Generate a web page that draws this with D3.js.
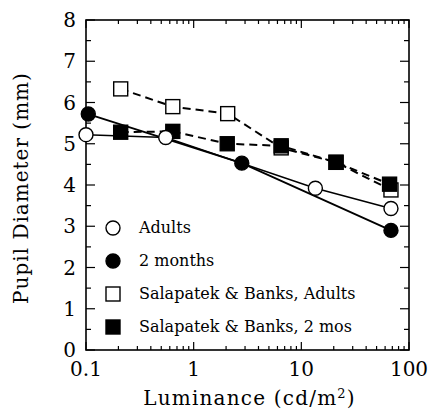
<!DOCTYPE html>
<html>
<head>
<meta charset="utf-8">
<script src="https://cdn.jsdelivr.net/npm/d3@7"></script>
<style>
body { margin: 0; background: #fff; }
svg { display: block; font-family: "DejaVu Serif", "Liberation Serif", serif; }
</style>
</head>
<body>
<svg id="chart" width="431" height="413"></svg>
<script>
// data
const adultsX = [0.1, 0.55, 13.5, 68];
const adultsY = [5.22, 5.15, 3.92, 3.43];
const twoMonthsX = [0.105, 2.8, 68];
const twoMonthsY = [5.72, 4.53, 2.9];
const sbAdultsX = [0.21, 0.64, 2.07, 6.5, 21, 68];
const sbAdultsY = [6.33, 5.9, 5.73, 4.9, 4.55, 3.88];
const sbInfantsX = [0.21, 0.64, 2.05, 6.5, 21, 66];
const sbInfantsY = [5.28, 5.3, 5.0, 4.95, 4.55, 4.02];
const yTicks = [0, 1, 2, 3, 4, 5, 6, 7, 8];
const xTicks = [0.1, 1, 10, 100];
const legendLabels = ["Adults", "2 months", "Salapatek & Banks, Adults", "Salapatek & Banks, 2 mos"];

const svg = d3.select("#chart");
const pLeft = 86, pRight = 409, pTop = 20, pBottom = 350;

const x = d3.scaleLog().domain([0.1, 100]).range([pLeft, pRight]);
const y = d3.scaleLinear().domain([0, 8]).range([pBottom, pTop]);

// minor ticks
const minorX = [];
for (let d = 0.1; d < 100; d *= 10) {
	for (let k = 1; k < 10; k++) minorX.push(d * k);
}
minorX.push(100);
const minorY = d3.range(0, 8.01, 0.5);

const tickG = svg.append("g").attr("stroke", "#000").attr("stroke-width", 1.2);
minorX.forEach(v => {
	const major = xTicks.includes(+v.toPrecision(3));
	const len = major ? 8 : 4;
	tickG.append("line").attr("x1", x(v)).attr("x2", x(v)).attr("y1", pBottom).attr("y2", pBottom - len);
	tickG.append("line").attr("x1", x(v)).attr("x2", x(v)).attr("y1", pTop).attr("y2", pTop + len);
});
minorY.forEach(v => {
	const len = Number.isInteger(v) ? 9 : 5;
	tickG.append("line").attr("x1", pLeft).attr("x2", pLeft + len).attr("y1", y(v)).attr("y2", y(v));
	tickG.append("line").attr("x1", pRight).attr("x2", pRight - len).attr("y1", y(v)).attr("y2", y(v));
});

svg.append("rect")
	.attr("x", pLeft).attr("y", pTop)
	.attr("width", pRight - pLeft).attr("height", pBottom - pTop)
	.attr("fill", "none").attr("stroke", "#000").attr("stroke-width", 1.6);

// tick labels
svg.append("g").selectAll("text")
	.data(yTicks).enter().append("text")
	.attr("x", pLeft - 10).attr("y", d => y(d) + 7)
	.attr("text-anchor", "end").attr("font-size", 20)
	.text(d => d);
svg.append("g").selectAll("text")
	.data(xTicks).enter().append("text")
	.attr("x", d => x(d)).attr("y", 376)
	.attr("text-anchor", "middle").attr("font-size", 20)
	.text(d => d);

// axis titles
const xt = svg.append("text")
	.attr("x", (pLeft + pRight) / 2 + 2).attr("y", 405)
	.attr("text-anchor", "middle").attr("font-size", 20)
	.attr("letter-spacing", 1.2);
xt.append("tspan").text("Luminance  (cd/m");
xt.append("tspan").attr("font-size", 13).attr("dy", -7).text("2");
xt.append("tspan").attr("dy", 7).text(")");

svg.append("text")
	.attr("transform", `translate(28,${(pTop + pBottom) / 2 + 3}) rotate(-90)`)
	.attr("text-anchor", "middle").attr("font-size", 20)
	.attr("letter-spacing", 1)
	.text("Pupil Diameter  (mm)");

const line = d3.line().x(d => x(d[0])).y(d => y(d[1]));
const zip = (a, b) => a.map((v, i) => [v, b[i]]);

const series = [
	{ pts: zip(sbAdultsX, sbAdultsY), dash: "8,5", shape: "square", fill: "#fff", w: 2 },
	{ pts: zip(sbInfantsX, sbInfantsY), dash: "8,5", shape: "square", fill: "#000", w: 2 },
	{ pts: zip(adultsX, adultsY), dash: null, shape: "circle", fill: "#fff", w: 1.5 },
	{ pts: zip(twoMonthsX, twoMonthsY), dash: null, shape: "circle", fill: "#000", w: 1.8 }
];

series.forEach(s => {
	svg.append("path")
		.attr("d", line(s.pts))
		.attr("fill", "none").attr("stroke", "#000")
		.attr("stroke-width", s.w)
		.attr("stroke-dasharray", s.dash);
});

function marker(g, shape, fill, cx, cy) {
	if (shape === "circle") {
		g.append("circle").attr("cx", cx).attr("cy", cy).attr("r", 7)
			.attr("fill", fill).attr("stroke", "#000").attr("stroke-width", 1.4);
	} else {
		g.append("rect").attr("x", cx - 7).attr("y", cy - 7).attr("width", 14).attr("height", 14)
			.attr("fill", fill).attr("stroke", "#000").attr("stroke-width", 1.4);
	}
}

series.forEach(s => {
	const g = svg.append("g");
	s.pts.forEach(p => marker(g, s.shape, s.fill, x(p[0]), y(p[1])));
});

// legend
const legendShapes = [["circle", "#fff"], ["circle", "#000"], ["square", "#fff"], ["square", "#000"]];
const legendY = [228, 261, 294, 327];
const lg = svg.append("g");
legendLabels.forEach((lab, i) => {
	marker(lg, legendShapes[i][0], legendShapes[i][1], 113, legendY[i]);
	lg.append("text").attr("x", 139).attr("y", legendY[i] + 5)
		.attr("font-size", 16).text(lab);
});
</script>
</body>
</html>
